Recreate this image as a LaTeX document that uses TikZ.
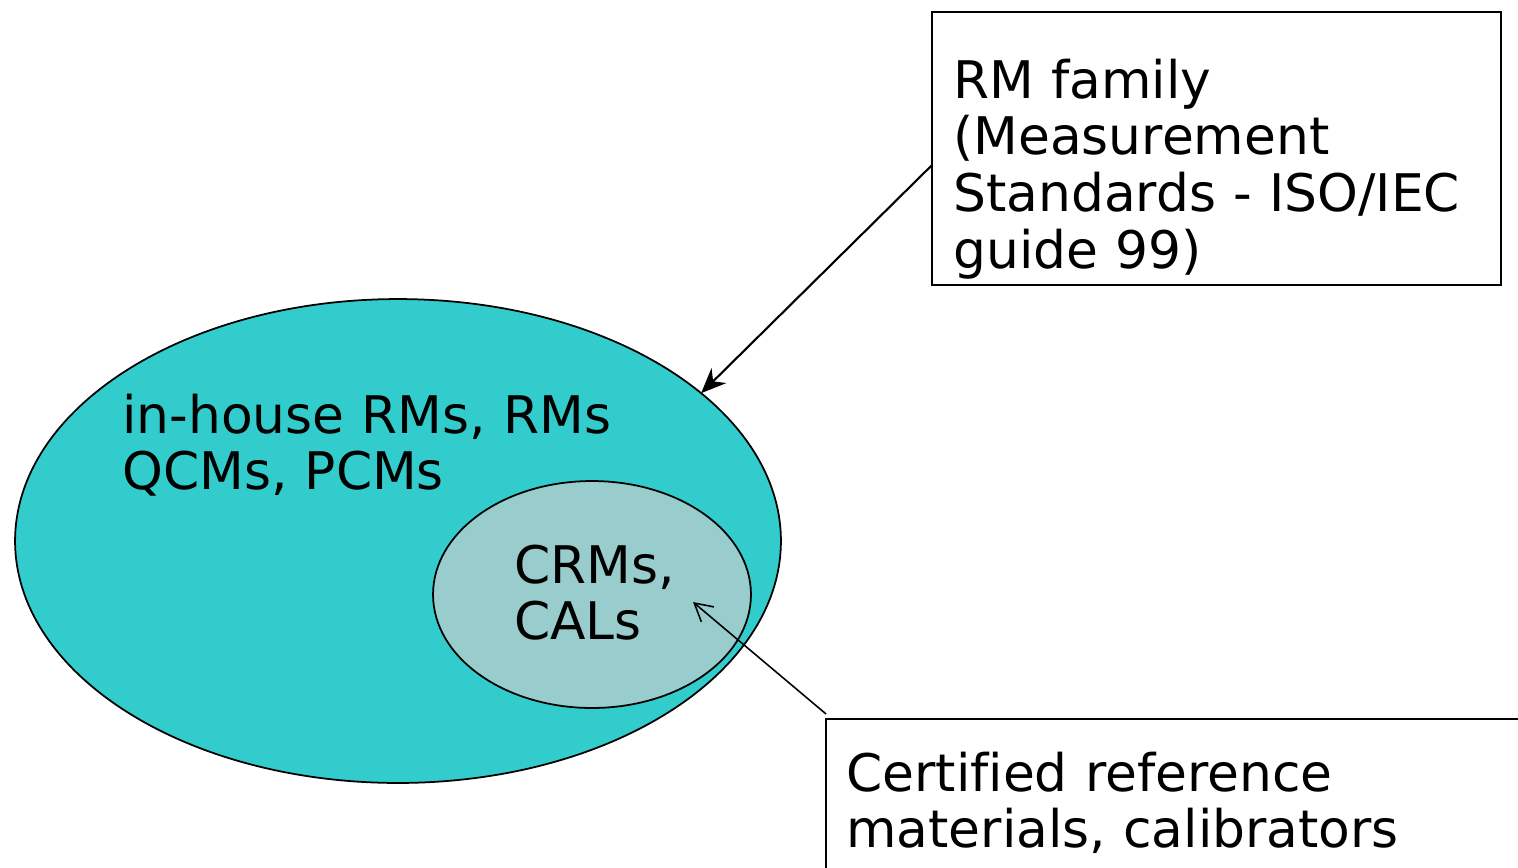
\documentclass[tikz,border=0pt]{standalone}
\usepackage{fontspec}
\setmainfont{DejaVu Sans}[Ligatures=CommonOff]
\usetikzlibrary{arrows.meta,positioning,calc,shapes.geometric}
\definecolor{rmTeal}{HTML}{33CCCC}
\definecolor{rmSage}{HTML}{99CCCC}
\tikzset{
  set oval/.style={ellipse,draw=black,line width=1pt,inner sep=0pt,outer sep=0pt},
  note box/.style={draw=black,line width=1pt,inner sep=0pt,outer sep=0pt},
  set text/.style={anchor=base west,inner sep=0pt,align=left,text width=13cm,
    font=\fontsize{29.5}{32.3}\selectfont},
  pointer arrow/.style={-{Stealth[length=5mm,width=4.2mm]},line width=1.2pt},
  open arrow/.style={-{Straight Barb[length=3.5mm,width=3.9mm]},line width=0.9pt}
}
\begin{document}
\begin{tikzpicture}[x=0.02cm,y=-0.02cm]
\useasboundingbox (0,0) rectangle (1518,867);
\clip (0,0) rectangle (1518,867);
% the two nested sets
\node[set oval,fill=rmTeal,minimum width=15.32cm,minimum height=9.68cm] (bigoval) at (398,541) {};
\node[set oval,fill=rmSage,minimum width=6.36cm,minimum height=4.54cm] (smalloval) at (592,594.5) {};
\node[set text] (bigtext) at (122,433) {in-house RMs, RMs\\QCMs, PCMs};
\node[set text] (smalltext) at (514,583) {CRMs,\\CALs};
% the two call-out boxes
\node[note box,minimum width=11.38cm,minimum height=5.46cm] (rmbox) at (1216.5,148.5) {};
\node[set text] (rmtext) at (953,98) {RM family\\(Measurement\\Standards - ISO/IEC\\guide 99)};
\node[note box,minimum width=14.68cm,minimum height=3.62cm] (crmbox) at (1193,809.5) {};
\node[set text] (crmtext) at (846,791) {Certified reference\\materials, calibrators};
\coordinate (crmtip) at (693,602);
\draw[pointer arrow] ($(rmbox.west)+(0,16.5)$) -- (bigoval.26);
\draw[open arrow] ($(crmbox.north west)+(0,-5)$) -- (crmtip);
\end{tikzpicture}
\end{document}
